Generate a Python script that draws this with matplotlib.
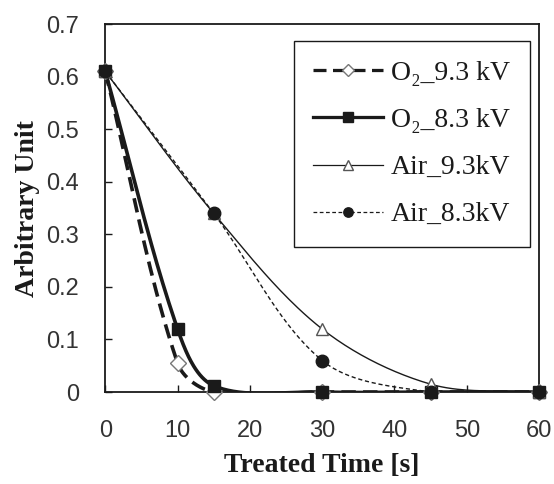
import numpy as np
import matplotlib
matplotlib.use("Agg")
from matplotlib import pyplot as plt
from matplotlib.lines import Line2D

# data
time_s = [0, 10, 15, 30, 45, 60]
o2_93 = [0.61, 0.055, 0.0, 0.0, 0.0, 0.0]
o2_83 = [0.61, 0.12, 0.012, 0.0, 0.0, 0.0]
time_air = [0, 15, 30, 45, 60]
air_93 = [0.61, 0.34, 0.12, 0.015, 0.0]
air_83 = [0.61, 0.34, 0.06, 0.0, 0.0]

labels = ["O\u2082_9.3 kV", "O\u2082_8.3 kV", "Air_9.3kV", "Air_8.3kV"]

# rough pixel scale of the plot area, used so the smoothing works like Excel's
SX = 434 / 60.0
SY = 368 / 0.7


def smooth(x, y, n=40):
    # Excel style smoothed line: bezier with control arms scaled by chord length
    p = np.column_stack([np.asarray(x, float) * SX, np.asarray(y, float) * SY])
    p = np.vstack([p[0], p, p[-1]])
    d = np.hypot(*np.diff(p, axis=0).T)
    t = np.linspace(0, 1, n)[:, None]
    out = []
    for i in range(1, len(p) - 2):
        p0, p3 = p[i], p[i + 1]
        da, db, dc = d[i - 1], d[i], d[i + 1]
        c1 = p0 + (p[i + 1] - p[i - 1]) * (db / (da + db if da + db else 1)) / 3
        c2 = p3 - (p[i + 2] - p[i]) * (db / (db + dc if db + dc else 1)) / 3
        b = (1 - t) ** 3 * p0 + 3 * (1 - t) ** 2 * t * c1 + 3 * (1 - t) * t ** 2 * c2 + t ** 3 * p3
        out.append(b)
    out = np.vstack(out)
    return out[:, 0] / SX, out[:, 1] / SY


ink = "#1a1a1a"
fig = plt.figure(figsize=(5.54, 4.84), dpi=100)
ax = fig.add_axes([0.19, 0.19, 0.783, 0.76])

styles = [
    dict(ls=(0, (4, 2)), lw=2.6, marker="D", mfc="white", mec="#777777", ms=8, mew=1.0),
    dict(ls="-", lw=2.6, marker="s", mfc=ink, mec=ink, ms=9, mew=1.0),
    dict(ls="-", lw=1.0, marker="^", mfc="white", mec="#555555", ms=9, mew=1.0),
    dict(ls=(0, (3, 2)), lw=1.0, marker="o", mfc=ink, mec=ink, ms=9, mew=1.0),
]
series = [(time_s, o2_93), (time_s, o2_83), (time_air, air_93), (time_air, air_83)]

handles = []
for (x, y), st, lab in zip(series, styles, labels):
    sx, sy = smooth(x, y)
    ax.plot(sx, sy, color=ink, ls=st["ls"], lw=st["lw"], zorder=3)
    ax.plot(x, y, ls="none", marker=st["marker"], ms=st["ms"], mfc=st["mfc"],
            mec=st["mec"], mew=st["mew"], clip_on=False, zorder=4)
    handles.append(Line2D([], [], color=ink, ls=st["ls"], lw=st["lw"] * 0.9,
                          marker=st["marker"], ms=st["ms"] * 0.75, mfc=st["mfc"],
                          mec=st["mec"], mew=st["mew"]))

ax.set_xlim(0, 60)
ax.set_ylim(0, 0.7)
ax.set_xticks(range(0, 61, 10))
ax.set_yticks(np.arange(0, 0.71, 0.1))
ax.set_yticklabels(["0", "0.1", "0.2", "0.3", "0.4", "0.5", "0.6", "0.7"])
ax.tick_params(direction="in", length=5, width=1, color=ink, labelsize=17,
               labelcolor="#333333")
ax.tick_params(axis="y", pad=19)
ax.tick_params(axis="x", pad=20)
for lab in ax.get_xticklabels() + ax.get_yticklabels():
    lab.set_fontfamily("Liberation Sans")
for sp in ax.spines.values():
    sp.set_color(ink)
    sp.set_linewidth(1.3)

serif = ["Liberation Serif", "DejaVu Serif"]
ax.set_xlabel("Treated Time [s]", family=serif, fontweight="bold", fontsize=20,
              color=ink, labelpad=8)
ax.set_ylabel("Arbitrary Unit", family=serif, fontweight="bold", fontsize=20,
              color=ink, labelpad=4)

leg = ax.legend(handles, labels, loc="upper right", bbox_to_anchor=(0.979, 0.954),
                borderaxespad=0, frameon=True, fancybox=False, framealpha=1,
                edgecolor=ink, handlelength=2.5, handletextpad=0.3,
                labelspacing=0.78, borderpad=0.7,
                prop={"family": serif, "size": 20})
leg.get_frame().set_linewidth(1.0)
for t in leg.get_texts():
    t.set_color(ink)

fig.savefig("out.png", dpi=100)
